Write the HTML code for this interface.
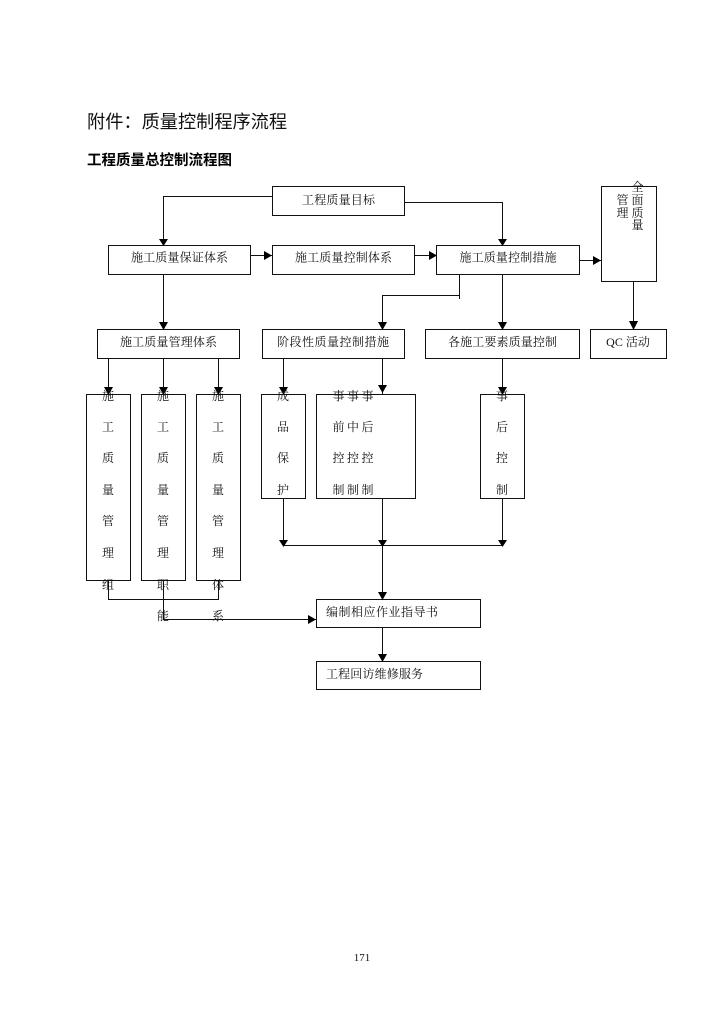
<!DOCTYPE html>
<html lang="zh">
<head>
<meta charset="utf-8">
<style>
html,body{margin:0;padding:0;background:#fff;width:724px;height:1024px;overflow:hidden}
svg{display:block}
text{font-family:"Liberation Serif","Noto Serif CJK SC",serif;font-size:12px;fill:#111}
.c{text-anchor:middle}
rect{fill:none;stroke:#111;stroke-width:1}
path.l{fill:none;stroke:#111;stroke-width:1}
path.a{fill:#000;stroke:none}
.h1{font-family:"Liberation Sans","WenQuanYi Zen Hei","Noto Sans CJK SC",sans-serif;font-size:18.2px;fill:#111}
.h2{font-family:"Liberation Sans","Noto Sans CJK SC",sans-serif;font-size:14.5px;font-weight:bold;fill:#000}
</style>
</head>
<body>
<svg width="724" height="1024" viewBox="0 0 724 1024" xmlns="http://www.w3.org/2000/svg">
<text class="h1" x="87" y="128">附件：质量控制程序流程</text>
<text class="h2" x="87" y="165">工程质量总控制流程图</text>

<g shape-rendering="crispEdges">
<rect x="272.5" y="186.5" width="132" height="29"/>
<rect x="108.5" y="245.5" width="142" height="29"/>
<rect x="272.5" y="245.5" width="142" height="29"/>
<rect x="436.5" y="245.5" width="143" height="29"/>
<rect x="601.5" y="186.5" width="55" height="95"/>
<rect x="97.5" y="329.5" width="142" height="29"/>
<rect x="262.5" y="329.5" width="142" height="29"/>
<rect x="425.5" y="329.5" width="154" height="29"/>
<rect x="590.5" y="329.5" width="76" height="29"/>
<rect x="86.5" y="394.5" width="44" height="186"/>
<rect x="141.5" y="394.5" width="44" height="186"/>
<rect x="196.5" y="394.5" width="44" height="186"/>
<rect x="261.5" y="394.5" width="44" height="104"/>
<rect x="316.5" y="394.5" width="99" height="104"/>
<rect x="480.5" y="394.5" width="44" height="104"/>
<rect x="316.5" y="599.5" width="164" height="28"/>
<rect x="316.5" y="661.5" width="164" height="28"/>

<path class="l" d="M272 196.500H163.500V245 M404 202.500H502.500V245 M251 255.500H272 M415 255.500H437 M579 260.500H601 M163.500 274V329 M502.500 274V329 M633.500 281V329 M459.500 274V299 M459 295.500H382.500V329 M108.500 358V394 M163.500 358V394 M218.500 358V394 M283.500 358V394 M382.500 358V394 M502.500 358V394 M283.500 498V546 M382.500 498V599 M502.500 498V546 M283 545.500H503 M382.500 627V661 M108.500 580V599.500H218.500V580 M163.500 580V619.500H316"/>
</g>

<path class="a" d="M159 239h9l-4.500 7z M498 239h9l-4.500 7z M159 322h9l-4.500 8z M498 322h9l-4.500 8z M629 321h9l-4.500 9z M378 322h9l-4.500 8z M104 387h9l-4.500 8z M159 387h9l-4.500 8z M214 387h9l-4.500 8z M279 387h9l-4.500 8z M378 385h9l-4.500 8z M498 387h9l-4.500 8z M279 540h9l-4.500 7z M378 540h9l-4.500 7z M498 540h9l-4.500 7z M378 592h9l-4.500 8z M378 654h9l-4.500 8z"/>
<path class="a" d="M264 251l8 4.500-8 4.500z M429 251l8 4.500-8 4.500z M593 256l8 4.500-8 4.500z M308 615l8 4.500-8 4.500z"/>

<text class="c" x="338.500" y="204" textLength="73" lengthAdjust="spacing">工程质量目标</text>
<text class="c" x="179.500" y="261.500" textLength="97" lengthAdjust="spacing">施工质量保证体系</text>
<text class="c" x="343.500" y="261.500" textLength="97" lengthAdjust="spacing">施工质量控制体系</text>
<text class="c" x="508" y="261.500" textLength="97" lengthAdjust="spacing">施工质量控制措施</text>
<text class="c" x="168.500" y="346" textLength="97" lengthAdjust="spacing">施工质量管理体系</text>
<text class="c" x="333" y="346" textLength="112" lengthAdjust="spacing">阶段性质量控制措施</text>
<text class="c" x="502.500" y="346" textLength="109" lengthAdjust="spacing">各施工要素质量控制</text>
<text class="c" x="628" y="346">QC 活动</text>
<text x="326" y="616" textLength="112" lengthAdjust="spacing">编制相应作业指导书</text>
<text x="326" y="678" textLength="97" lengthAdjust="spacing">工程回访维修服务</text>

<g class="c">
<text class="c" x="637.500" y="191">全</text><text class="c" x="637.500" y="204">面</text><text class="c" x="637.500" y="217">质</text><text class="c" x="637.500" y="229">量</text>
<text class="c" x="622.500" y="204">管</text><text class="c" x="622.500" y="217">理</text>

<text class="c" x="108" y="400">施</text><text class="c" x="108" y="431">工</text><text class="c" x="108" y="462">质</text><text class="c" x="108" y="494">量</text><text class="c" x="108" y="525">管</text><text class="c" x="108" y="557">理</text><text class="c" x="108" y="589">组</text>
<text class="c" x="163" y="400">施</text><text class="c" x="163" y="431">工</text><text class="c" x="163" y="462">质</text><text class="c" x="163" y="494">量</text><text class="c" x="163" y="525">管</text><text class="c" x="163" y="557">理</text><text class="c" x="163" y="589">职</text><text class="c" x="163" y="620">能</text>
<text class="c" x="218" y="400">施</text><text class="c" x="218" y="431">工</text><text class="c" x="218" y="462">质</text><text class="c" x="218" y="494">量</text><text class="c" x="218" y="525">管</text><text class="c" x="218" y="557">理</text><text class="c" x="218" y="589">体</text><text class="c" x="218" y="620">系</text>

<text class="c" x="283" y="400">成</text><text class="c" x="283" y="431">品</text><text class="c" x="283" y="462">保</text><text class="c" x="283" y="494">护</text>

<text class="c" x="338.500" y="400">事</text><text class="c" x="353" y="400">事</text><text class="c" x="367.500" y="400">事</text>
<text class="c" x="338.500" y="431">前</text><text class="c" x="353" y="431">中</text><text class="c" x="367.500" y="431">后</text>
<text class="c" x="338.500" y="462">控</text><text class="c" x="353" y="462">控</text><text class="c" x="367.500" y="462">控</text>
<text class="c" x="338.500" y="494">制</text><text class="c" x="353" y="494">制</text><text class="c" x="367.500" y="494">制</text>

<text class="c" x="502" y="400">事</text><text class="c" x="502" y="431">后</text><text class="c" x="502" y="462">控</text><text class="c" x="502" y="494">制</text>
</g>

<text class="c" x="362" y="961" style="font-size:11px">171</text>
</svg>
</body>
</html>
